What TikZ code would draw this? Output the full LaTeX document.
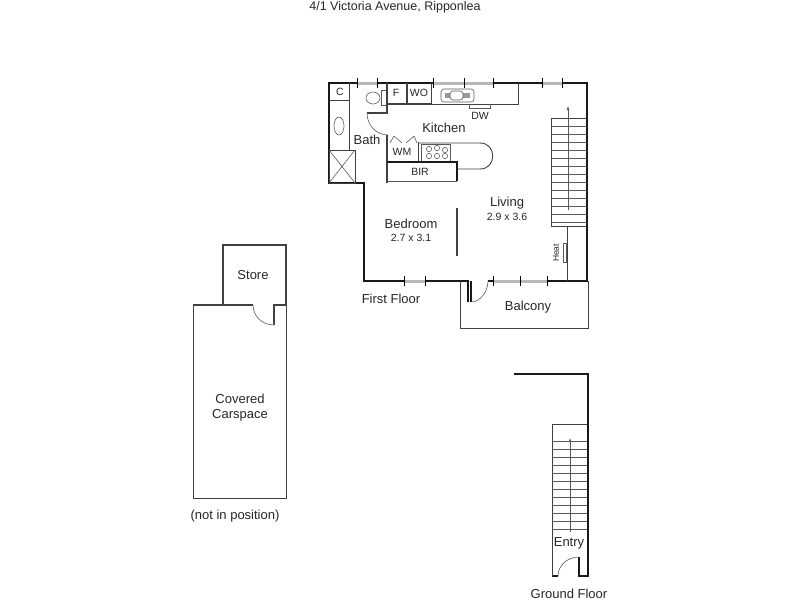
\documentclass[tikz,border=0pt]{standalone}
\usepackage{fontspec}
\setmainfont{Liberation Sans}
\usetikzlibrary{positioning}
\usetikzlibrary{arrows.meta}
\tikzset{
  wall/.style={line width=2.6pt, color=black!90},
  thin wall/.style={line width=0.9pt, color=black!75},
  fitting/.style={line width=0.6pt, color=black!65},
  pane/.style={line width=3pt, color=black!28},
  jamb/.style={line width=0.9pt, color=black},
  label/.style={inner sep=0pt, color=black!85, font=\fontsize{13}{15}\selectfont},
  small label/.style={inner sep=0pt, color=black!85, font=\fontsize{10.5}{12}\selectfont},
  flight/.style={fitting, -{Latex[length=4pt,width=3pt]}},
}
\begin{document}
\begin{tikzpicture}[x=1pt, y=-1pt]
  \useasboundingbox (0,0) rectangle (800,600);

  \node[label, font=\fontsize{12.5}{14}\selectfont] (title) at (395,7) {4/1 Victoria Avenue, Ripponlea};

  % first floor walls
  \draw[wall] (357,83) -- (329,83) -- (329,183) -- (365,183);
  \draw[wall] (364,183) -- (364,281) -- (404,281);
  \draw[wall] (425,281) -- (468,281) -- (468,302);
  \draw[wall, line width=1.6pt] (471,281) -- (471,302);
  \draw[wall] (377,83) -- (433,83);
  \draw[wall] (493,83) -- (542,83);
  \draw[wall] (562,83) -- (587,83) -- (587,281) -- (547,281);
  \draw[wall, line width=1.5pt] (488,281) -- (493,281);

  % windows
  \foreach \xa/\xb in {357/377, 433/464, 464/493, 542/562} {
    \draw[pane] (\xa,83) -- (\xb,83);
    \draw[jamb] (\xa,78) -- (\xa,88) (\xb,78) -- (\xb,88);
  }
  \foreach \xa/\xb in {404/425, 493/520, 520/547} {
    \draw[pane] (\xa,281) -- (\xb,281);
    \draw[jamb] (\xa,276) -- (\xa,286) (\xb,276) -- (\xb,286);
  }

  % bath and wet areas
  \draw[thin wall] (329,100) -- (349,100) -- (349,150);
  \draw[thin wall] (349,83) -- (349,100);
  \draw[thin wall] (329,150) rectangle (355,183);
  \draw[fitting] (329,150) -- (355,183) (355,150) -- (329,183);
  \draw[fitting] (339,126) ellipse (5 and 9);
  \draw[fitting] (373,98) ellipse (7 and 6);
  \draw[fitting] (381,90) rectangle (386,105);
  \draw[thin wall, line width=1.6pt] (387,83) -- (387,113) -- (367,113);
  \draw[fitting] (367,113) .. controls (367,125) and (376,135) .. (388,135);
  \draw[thin wall, line width=1.6pt] (387,135) -- (387,183);

  % kitchen bench
  \draw[thin wall, line width=1.6pt] (387,104) -- (431,104);
  \draw[thin wall, line width=1.4pt] (407,83) -- (407,104);
  \draw[thin wall] (431,83) -- (431,104) -- (518,104) -- (518,83);
  \draw[fitting] (469,104) -- (469,108) -- (490,108) -- (490,104);
  \draw[fitting, rounded corners=3pt] (441,89) rectangle (474,102);
  \draw[fitting, line width=5pt, color=black!40] (445,95.5) -- (470,95.5);
  \draw[fitting, rounded corners=3pt, fill=white] (450,91) rectangle (463,100);

  % washing machine, hob, robe
  \draw[fitting] (390,143) -- (394,136) -- (402,143) (406,143) -- (414,136) -- (417,143);
  \draw[thin wall] (418,142) -- (418,162);
  \draw[thin wall] (418,143) -- (480,143) .. controls (497,143) and (497,169) .. (480,169) -- (457,169);
  \draw[fitting] (421,144) rectangle (450,161);
  \foreach \xc/\yc in {429/149, 437/148, 445/150, 429/156, 437/156, 445/156}
    \draw[fitting] (\xc,\yc) circle (2.6);
  \draw[wall, line width=1.7pt] (387,162) -- (457,162) -- (457,181);
  \draw[fitting] (387,181) -- (457,181);

  % stairs, first floor
  \draw[thin wall, line width=1pt] (587,118) -- (551,118) -- (551,226) -- (587,226);
  \foreach \ystep in {126,134,...,222}
    \draw[fitting] (551,\ystep) -- (587,\ystep);
  \draw[flight] (568,210) -- (568,106);
  \draw[thin wall] (567,226) -- (567,281);
  \draw[fitting] (563,243) rectangle (566,262);

  % partition, door, balcony
  \draw[thin wall, line width=1.2pt] (457,208) -- (457,256);
  \draw[fitting] (471,302) .. controls (480,302) and (488,292) .. (488,281);
  \draw[thin wall] (460,281) -- (460,328) -- (588,328) -- (588,281);

  % store and carspace
  \draw[thin wall, line width=1.2pt] (223,305) -- (223,245) -- (286,245) -- (286,305);
  \draw[thin wall, line width=1.2pt] (193,305) -- (253,305);
  \draw[thin wall, line width=1.2pt] (274,325) -- (274,305) -- (286,305);
  \draw[fitting] (253,305) .. controls (253,316) and (262,325) .. (274,325);
  \draw[thin wall] (193,305) -- (193,498) -- (286,498) -- (286,305);

  % ground floor
  \draw[wall] (514,374) -- (588,374) -- (588,576) -- (579,576) -- (579,557);
  \draw[wall] (552,576) -- (558,576);
  \draw[thin wall] (552,576) -- (552,424) -- (587,424);
  \foreach \ystep in {441,449,...,529}
    \draw[fitting] (552,\ystep) -- (587,\ystep);
  \draw[flight] (570,532) -- (570,438);
  \draw[fitting] (558,576) .. controls (558,565) and (568,557) .. (579,557);

  % room labels
  \node[small label] (lblc) at (340,92) {C};
  \node[small label] (lblf) at (396,93) {F};
  \node[small label] (lblwo) at (419,93) {WO};
  \node[small label] (lbldw) at (480,116) {DW};
  \node[label] (kitchen) at (444,128) {Kitchen};
  \node[label] (bath) at (367,140) {Bath};
  \node[small label] (lblwm) at (402,152) {WM};
  \node[small label] (lblbir) at (420,172) {BIR};
  \node[label] (bedroom) at (411,224) {Bedroom};
  \node[small label] (bedsize) at (411,238) {2.7 x 3.1};
  \node[label] (living) at (507,203) {Living};
  \node[small label] (livsize) at (507,217) {2.9 x 3.6};
  \node[small label, font=\fontsize{8.5}{10}\selectfont, rotate=90] (heat) at (556,253) {Heat};
  \node[label] (firstfloor) at (391,299) {First Floor};
  \node[label] (balcony) at (528,307) {Balcony};
  \node[label] (store) at (253,275) {Store};
  \node[label] (covered) at (240,399) {Covered};
  \node[label] (carspace) at (240,415) {Carspace};
  \node[label] (position) at (235,516) {(not in position)};
  \node[label] (entry) at (569,543) {Entry};
  \node[label] (groundfloor) at (569,594) {Ground Floor};
\end{tikzpicture}
\end{document}
